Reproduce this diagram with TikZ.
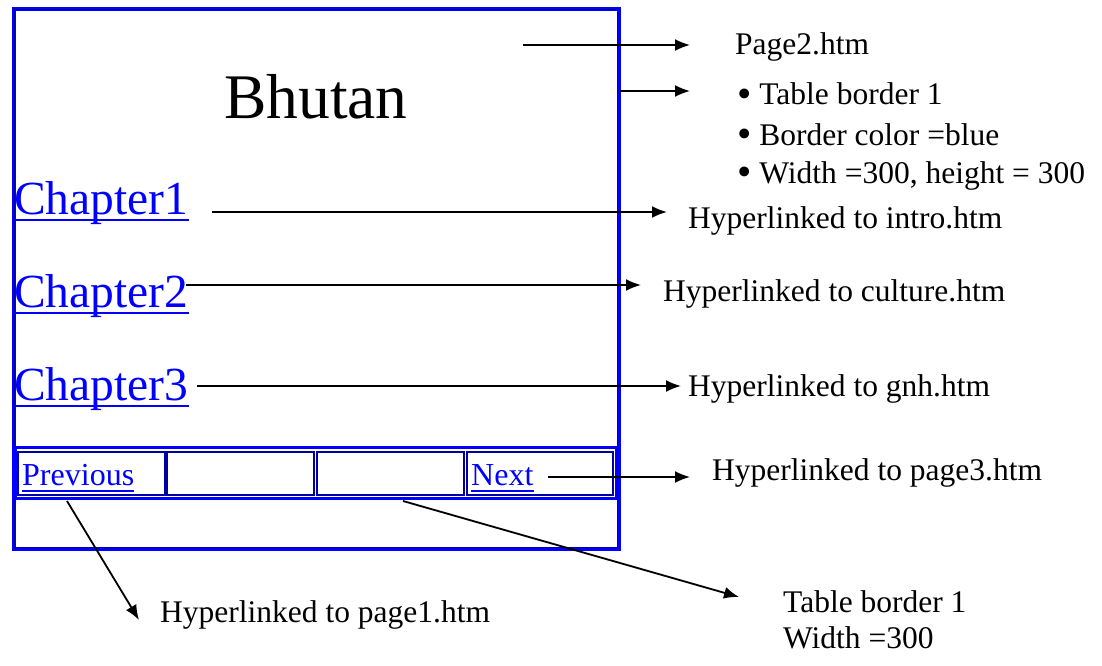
\documentclass[tikz,border=0pt]{standalone}
\usepackage{fontspec}
\setmainfont{Liberation Serif}
\newfontfamily\timesfont{Liberation Serif}
\usepackage{tikz}
\usetikzlibrary{arrows.meta}
\definecolor{linkblue}{RGB}{0,0,255}
\definecolor{framenavy}{RGB}{0,0,170}
\definecolor{cellnavy}{RGB}{0,0,160}
\tikzset{
  lbl/.style={anchor=base west,inner sep=0pt,font=\timesfont\fontsize{31.5}{36}\selectfont},
  chap/.style={anchor=base west,inner sep=0pt,text=linkblue,font=\timesfont\fontsize{47.5}{52}\selectfont},
  navlink/.style={anchor=base west,inner sep=0pt,text=linkblue,font=\timesfont\fontsize{32}{36}\selectfont},
  uline/.style={linkblue,line width=2.5pt},
  ptr/.style={line width=1.8pt,-{Latex[length=15pt,width=12pt]}},
  cellbox/.style={draw=cellnavy,line width=2pt}
}
\newcommand{\bigdot}{\raisebox{-0.07em}{\scalebox{1.3}{\textbullet}}}

\begin{document}
\begin{tikzpicture}[x=1pt,y=-1pt]
\useasboundingbox (0,0) rectangle (1102,666);
% page frame
\draw[linkblue,line width=4pt] (13.5,8.7) rectangle (618.5,548.5);
\draw[framenavy,line width=1.5pt] (14.5,9.7) rectangle (617.5,547.5);
\node[anchor=base,inner sep=0pt,font=\timesfont\fontsize{63.5}{70}\selectfont] (bhutan) at (316,118) {Bhutan};
% chapter links
\node[chap] (ch1) at (14,214) {Chapter1};
\node[chap] (ch2) at (14,307) {Chapter2};
\node[chap] (ch3) at (14,400) {Chapter3};
\foreach \c in {ch1,ch2,ch3}
  \draw[uline] ([yshift=-6pt]\c.base west) -- ([yshift=-6pt]\c.base east);
% bottom table
\draw[linkblue,line width=2.5pt] (15.5,447.5) rectangle (616,498.5);
\draw[cellbox] (18,451.5) rectangle (165,494.5);
\draw[cellbox] (167,451.5) rectangle (314,494.5);
\draw[cellbox] (317,451.5) rectangle (464,494.5);
\draw[cellbox] (467,451.5) rectangle (613,494.5);
\node[navlink] (prev) at (22,485) {Previous};
\node[navlink] (next) at (471,485) {Next};
\foreach \c in {prev,next}
  \draw[uline,line width=2pt] ([yshift=-6pt]\c.base west) -- ([yshift=-6pt]\c.base east);
% notes
\node[lbl] (page2) at (735,55) {Page2.htm};
\node[lbl] (b1) at (737,105) {\bigdot\ Table border 1};
\node[lbl] (b2) at (737,145) {\bigdot\ Border color =blue};
\node[lbl] (b3) at (737,183) {\bigdot\ Width =300, height = 300};
\node[lbl] (intro) at (688,228) {Hyperlinked to intro.htm};
\node[lbl] (culture) at (663,301) {Hyperlinked to culture.htm};
\node[lbl] (gnh) at (688,396) {Hyperlinked to gnh.htm};
\node[lbl] (page3) at (712,480) {Hyperlinked to page3.htm};
\node[lbl] (page1) at (160,622) {Hyperlinked to page1.htm};
\node[lbl] (tb1) at (783,612) {Table border 1};
\node[lbl] (tw1) at (783,648) {Width =300};
% arrow ends
\coordinate (s0) at (523,45);  \coordinate (e0) at (690,45);
\coordinate (s1) at (620,91);  \coordinate (e1) at (690,91);
\coordinate (s2) at (212,212); \coordinate (e2) at (667,212);
\coordinate (s3) at (186,285); \coordinate (e3) at (641,285);
\coordinate (s4) at (197,386); \coordinate (e4) at (681,386);
\coordinate (s5) at (548,477); \coordinate (e5) at (690,477);
\coordinate (s6) at (67,501);  \coordinate (e6) at (139,620);
\coordinate (s7) at (403,501); \coordinate (e7) at (739,597);
\foreach \i in {0,...,7}
  \draw[ptr] (s\i) -- (e\i);
\end{tikzpicture}
\end{document}
